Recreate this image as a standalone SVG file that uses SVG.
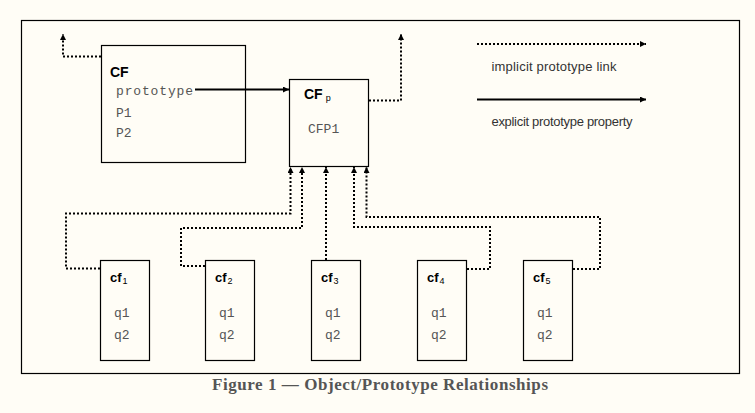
<svg xmlns="http://www.w3.org/2000/svg" width="755" height="413" viewBox="0 0 755 413">
<style>
.box{fill:none;stroke:#000;stroke-width:1.2}
.dot{fill:none;stroke:#000;stroke-width:2;stroke-dasharray:2 2}
.sol{fill:none;stroke:#000;stroke-width:2}
.lbl{font-family:"Liberation Sans",Arial,sans-serif;font-weight:bold;font-size:13px;fill:#000}
.big{font-size:14px}
.sub{font-family:"Liberation Sans",Arial,sans-serif;font-weight:normal;font-size:9px;fill:#000}
.mono{font-family:"Liberation Mono","Courier New",monospace;font-size:13px;fill:#555}
.leg{font-family:"Liberation Sans",Arial,sans-serif;font-size:13px;fill:#333}
.cap{font-family:"Liberation Serif","Times New Roman",serif;font-weight:bold;font-size:17px;fill:#555}
</style>
<defs>
<marker id="ah" viewBox="0 0 10 10" refX="10" refY="5" markerWidth="6" markerHeight="6" markerUnits="userSpaceOnUse" orient="auto">
<path d="M0,0 L10,5 L0,10 z" fill="#000"/>
</marker>
</defs>
<rect width="755" height="413" fill="#fffdf6"/>
<rect x="21.5" y="20.5" width="718" height="353" fill="none" stroke="#000" stroke-width="1.2"/>

<g id="CF">
<rect class="box" x="101.5" y="45.5" width="144" height="117"/>
<text class="lbl big" x="110" y="77">CF</text>
<text class="mono" x="116" y="95" textLength="77" lengthAdjust="spacing">prototype</text>
<text class="mono" x="116" y="117">P1</text>
<text class="mono" x="116" y="137">P2</text>
</g>

<g id="CFp">
<rect class="box" x="289.5" y="79.5" width="79" height="87"/>
<text class="lbl big" x="304" y="99">CF<tspan class="sub" dx="3" dy="2">p</tspan></text>
<text class="mono" x="308" y="133">CFP1</text>
</g>

<g id="cf1">
<rect class="box" x="100.5" y="260.5" width="49" height="100"/>
<text class="lbl" x="110" y="282">cf<tspan class="sub" dx="1" dy="2">1</tspan></text>
<text class="mono" x="114" y="317">q1</text>
<text class="mono" x="114" y="339">q2</text>
</g>
<g id="cf2">
<rect class="box" x="205.5" y="260.5" width="49" height="100"/>
<text class="lbl" x="215" y="282">cf<tspan class="sub" dx="1" dy="2">2</tspan></text>
<text class="mono" x="219" y="317">q1</text>
<text class="mono" x="219" y="339">q2</text>
</g>
<g id="cf3">
<rect class="box" x="311.5" y="260.5" width="49" height="100"/>
<text class="lbl" x="321" y="282">cf<tspan class="sub" dx="1" dy="2">3</tspan></text>
<text class="mono" x="325" y="317">q1</text>
<text class="mono" x="325" y="339">q2</text>
</g>
<g id="cf4">
<rect class="box" x="417.5" y="260.5" width="49" height="100"/>
<text class="lbl" x="427" y="282">cf<tspan class="sub" dx="1" dy="2">4</tspan></text>
<text class="mono" x="431" y="317">q1</text>
<text class="mono" x="431" y="339">q2</text>
</g>
<g id="cf5">
<rect class="box" x="523.5" y="260.5" width="49" height="100"/>
<text class="lbl" x="533" y="282">cf<tspan class="sub" dx="1" dy="2">5</tspan></text>
<text class="mono" x="537" y="317">q1</text>
<text class="mono" x="537" y="339">q2</text>
</g>

<g id="legend">
<text class="leg" x="491.5" y="71" textLength="125">implicit prototype link</text>
<text class="leg" x="491.5" y="126" textLength="141">explicit prototype property</text>
</g>

<g id="connectors">
<path class="sol" d="M195,89.5 H289" marker-end="url(#ah)"/>
<path class="dot" d="M101,56.5 H63 V34" marker-end="url(#ah)"/>
<path class="dot" d="M369,100.5 H401 V34" marker-end="url(#ah)"/>
<path class="dot" d="M100,268.5 H66 V213.5 H290.5 V167" marker-end="url(#ah)"/>
<path class="dot" d="M205,266 H181 V228 H302 V167" marker-end="url(#ah)"/>
<path class="dot" d="M326,260 V167" marker-end="url(#ah)"/>
<path class="dot" d="M467,269 H490 V227 H354 V167" marker-end="url(#ah)"/>
<path class="dot" d="M573,269 H600 V217 H366.5 V167" marker-end="url(#ah)"/>
<path class="dot" d="M477,44 H646" marker-end="url(#ah)"/>
<path class="sol" d="M477,99.5 H646" marker-end="url(#ah)"/>
</g>

<text class="cap" x="212" y="390" textLength="336">Figure 1 — Object/Prototype Relationships</text>
</svg>
